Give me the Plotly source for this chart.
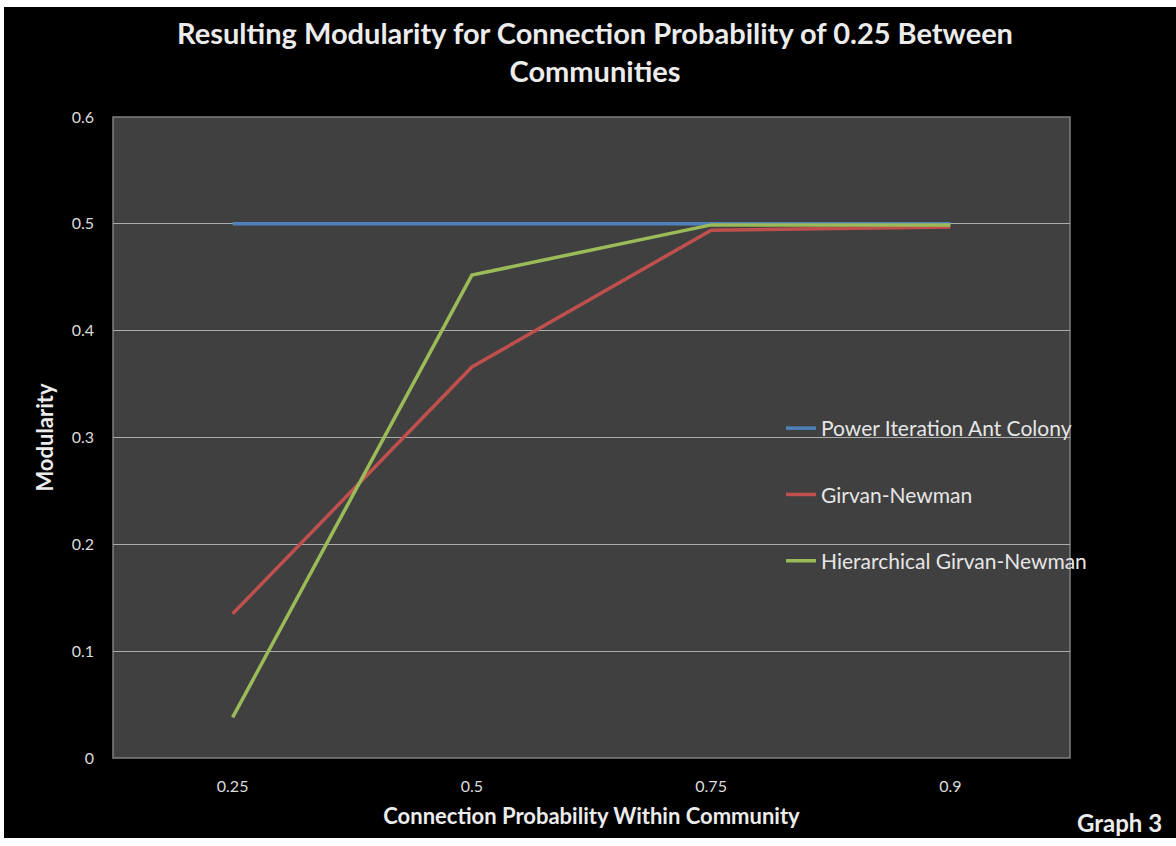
import plotly.graph_objects as go

categories = ["0.25", "0.5", "0.75", "0.9"]
power_iteration = [0.5, 0.5, 0.5, 0.5]
girvan_newman = [0.135, 0.366, 0.494, 0.497]
hierarchical_gn = [0.038, 0.452, 0.499, 0.499]
y_ticks = [0, 0.1, 0.2, 0.3, 0.4, 0.5, 0.6]

W, H = 1176, 846
L, R, T, B = 113, 1070, 117, 758

def px_x(p):
    return (p - L) / (R - L)

def px_y(p):
    return (B - p) / (B - T)

FONT = "Lato, 'Open Sans', sans-serif"

fig = go.Figure()
series = [
    ("Power Iteration Ant Colony", power_iteration, "#4F81BD"),
    ("Girvan-Newman", girvan_newman, "#C0504D"),
    ("Hierarchical Girvan-Newman", hierarchical_gn, "#9BBB59"),
]
for name, vals, col in series:
    fig.add_trace(go.Scatter(
        x=categories, y=vals, mode="lines", name=name,
        legendgroup=name,
        line=dict(color=col, width=3.5),
    ))

fig.update_layout(
    width=W, height=H,
    margin=dict(l=L, r=W - R, t=T, b=H - B),
    paper_bgcolor="white",
    plot_bgcolor="#404040",
    font=dict(family=FONT, color="#dcdcdc", size=16),
    title=dict(
        text="<b>Resulting Modularity for Connection Probability of 0.25 Between<br>Communities</b>",
        x=0.506, xanchor="center", y=1 - 44 / H, yanchor="middle",
        font=dict(family=FONT, size=29, color="#ececec"),
    ),
    xaxis=dict(
        type="category", range=[-0.5, 3.5],
        showgrid=False, zeroline=False, showline=False, ticks="",
        ticklabelstandoff=17,
        tickfont=dict(size=16, color="#dcdcdc"),
        title=dict(text="<b>Connection Probability Within Community</b>",
                   font=dict(size=22, color="#ececec"), standoff=14),
    ),
    yaxis=dict(
        range=[0, 0.6], tickvals=y_ticks, ticktext=[f"{v:g}" for v in y_ticks],
        showgrid=True, gridcolor="#ababab", gridwidth=1,
        zeroline=False, showline=False, ticks="",
        ticklabelstandoff=18,
        tickfont=dict(size=16, color="#dcdcdc"),
        title=dict(text="<b>Modularity</b>", font=dict(size=22, color="#ececec"), standoff=11),
    ),
    legend=dict(
        x=px_x(781), y=px_y(408), xanchor="left", yanchor="top",
        bgcolor="rgba(0,0,0,0)", borderwidth=0,
        font=dict(family=FONT, size=21, color="#e6e6e6"),
        traceorder="grouped", tracegroupgap=36,
    ),
    shapes=[
        dict(type="rect", xref="paper", yref="paper", layer="below",
             x0=px_x(4), x1=px_x(1180), y0=px_y(838), y1=px_y(7),
             fillcolor="black", line=dict(width=0)),
        dict(type="rect", xref="paper", yref="paper", layer="below",
             x0=0, x1=1, y0=0, y1=1,
             fillcolor="#404040", line=dict(color="#7f7f7f", width=1.5)),
    ],
    annotations=[
        dict(text="<b>Graph 3</b>", xref="paper", yref="paper",
             x=px_x(1164), y=px_y(822), xanchor="right", yanchor="middle",
             showarrow=False, font=dict(family=FONT, size=24, color="#ececec")),
    ],
)

fig.write_html("out.html")
